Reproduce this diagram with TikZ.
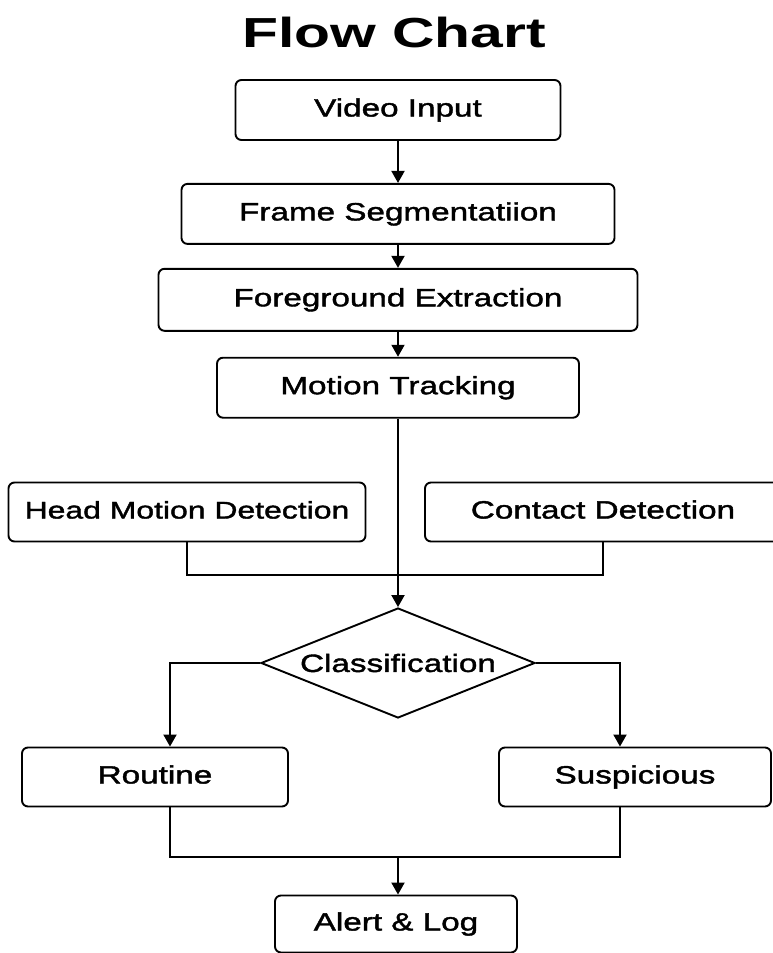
\documentclass[tikz,border=0pt]{standalone}
\usepackage{fontspec}
\setmainfont{Liberation Sans}[FakeStretch=1.33, FakeBold=1.6]
\newfontfamily\titlefont{Liberation Sans Bold}[FakeStretch=1.4]
\usetikzlibrary{arrows.meta,positioning,shapes.geometric}

\begin{document}
\begin{tikzpicture}[
  x=1pt, y=-1pt,
  font=\fontsize{25}{29}\selectfont,
  stepbox/.style={
    draw=black,
    fill=white,
    rounded corners=6pt,
    line width=1.9pt,
    minimum height=60pt,
    text height=18pt,
    text depth=5pt,
    align=center,
    inner sep=2pt
  },
  decision/.style={
    draw=black,
    fill=white,
    diamond,
    aspect=2.5,
    line width=1.9pt,
    minimum width=274pt,
    minimum height=110pt,
    inner sep=0pt
  },
  flow/.style={-{Triangle[length=12pt,width=13pt]}, draw=black, line width=1.9pt},
  link/.style={draw=black, line width=1.9pt},
  node distance=42pt
]
\useasboundingbox (0,0) rectangle (772,953);

\node[font=\titlefont\fontsize{42}{48}\selectfont] (title) at (394,32) {Flow Chart};

\node[stepbox, minimum width=325pt] (video) at (398,110) {Video Input};
\node[stepbox, minimum width=433pt, below=42pt of video.south, anchor=north] (frame)
  {Frame Segmentatiion};
\node[stepbox, minimum width=479pt, minimum height=62pt, below=23pt of frame.south, anchor=north] (foreground)
  {Foreground Extraction};
\node[stepbox, minimum width=362pt, below=25pt of foreground.south, anchor=north] (motion)
  {Motion Tracking};

\node[stepbox, minimum width=357pt, minimum height=59pt, font=\fontsize{24}{28}\selectfont] (head) at (187,512)
  {Head Motion Detection};
\node[stepbox, minimum width=356pt, minimum height=59pt] (contact) at (603,512) {Contact Detection};

\node[decision] (classify) at (398,663) {Classification};

\node[stepbox, minimum width=266pt, minimum height=59pt] (routine) at (155,777) {Routine};
\node[stepbox, minimum width=272pt, minimum height=59pt] (suspicious) at (635,777) {Suspicious};

\node[stepbox, minimum width=242pt, minimum height=57pt] (alert) at (396,924) {Alert \& Log};

% main column
\draw[flow] (video.south) -- (frame.north);
\draw[flow] (frame.south) -- (foreground.north);
\draw[flow] (foreground.south) -- (motion.north);

\coordinate (join) at (398,575);
\draw[link] (head.south) |- (join) -| (contact.south);
\draw[flow] (motion.south) -- (classify.north);

% branches
\draw[flow] (classify.west) -| ([xshift=15pt]routine.north);
\draw[flow] (classify.east) -| ([xshift=-15pt]suspicious.north);

\coordinate (merge) at (398,857);
\draw[link] ([xshift=15pt]routine.south) |- (merge) -| ([xshift=-15pt]suspicious.south);
\draw[flow] (merge) -- (merge |- alert.north);
\end{tikzpicture}
\end{document}
